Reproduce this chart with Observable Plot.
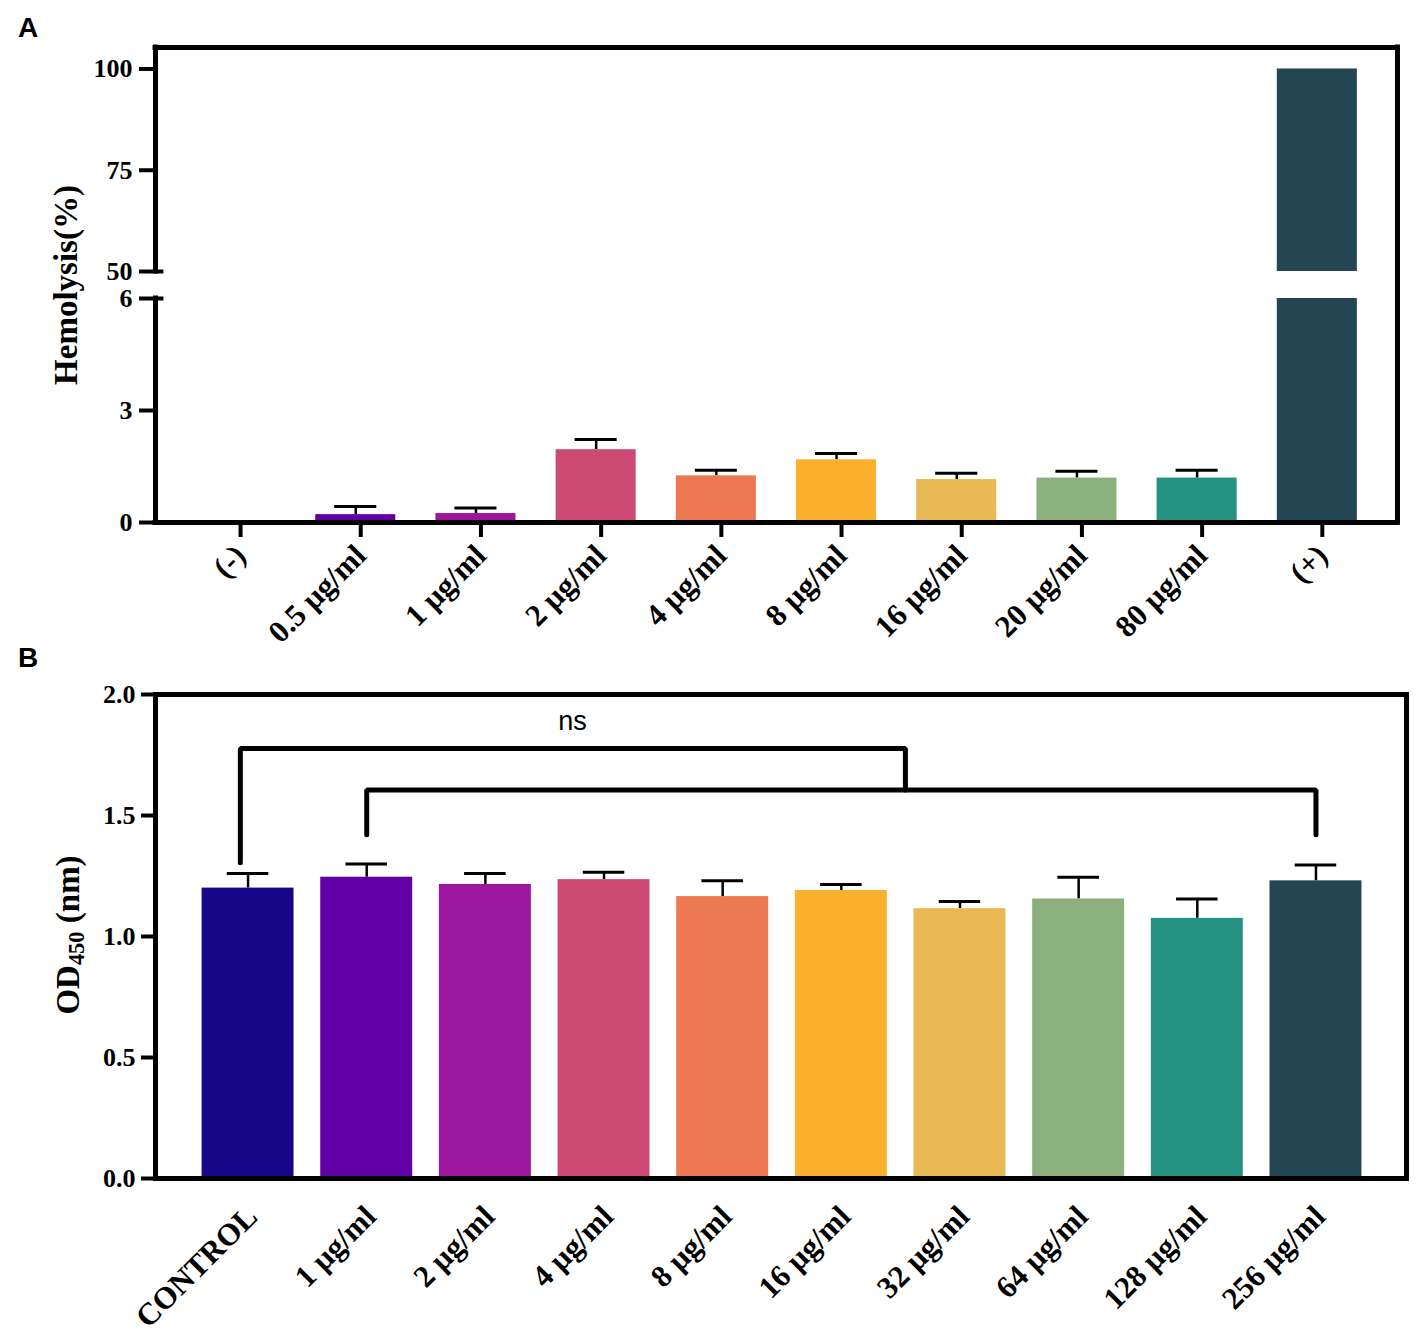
<!DOCTYPE html>
<html><head><meta charset="utf-8">
<script src="https://cdn.jsdelivr.net/npm/d3@7"></script>
<script src="https://cdn.jsdelivr.net/npm/@observablehq/plot@0.6"></script>
<style>
body{margin:0;background:#fff;}
#wrap{position:relative;width:1425px;height:1336px;overflow:hidden;background:#fff;}
.abs{position:absolute;left:0;}
.panel{position:absolute;font-family:"Liberation Sans",Arial,sans-serif;font-weight:bold;font-size:28px;line-height:1;}
.ytitle{position:absolute;font-family:"Liberation Serif","Times New Roman",serif;font-weight:bold;font-size:33px;white-space:nowrap;line-height:1;transform:translate(-50%,-50%) rotate(-90deg);}
.ytitle sub{font-size:0.68em;vertical-align:-0.25em;line-height:0;}
</style></head><body><div id="wrap"></div>
<script>
// ---------- Panel A data (Hemolysis %) ----------
const catsA = ["(-)", "0.5 µg/ml", "1 µg/ml", "2 µg/ml", "4 µg/ml", "8 µg/ml", "16 µg/ml", "20 µg/ml", "80 µg/ml", "(+)"];
const valsA = [0, 0.21, 0.24, 1.95, 1.25, 1.68, 1.15, 1.19, 1.19, 100];
const errTopA = [null, 0.43, 0.39, 2.22, 1.40, 1.85, 1.32, 1.37, 1.40, null];
const colorsA = ["#170788", "#6100a6", "#9c179e", "#cc4a74", "#ed7953", "#fcb12e", "#e9b956", "#8bb07e", "#259281", "#244653"];
const ticksAUpper = [50, 75, 100];
const ticksALower = [0, 3, 6];
const breakLow = 6, breakHigh = 50;

// ---------- Panel B data (OD450) ----------
const catsB = ["CONTROL", "1 µg/ml", "2 µg/ml", "4 µg/ml", "8 µg/ml", "16 µg/ml", "32 µg/ml", "64 µg/ml", "128 µg/ml", "256 µg/ml"];
const valsB = [1.20, 1.245, 1.215, 1.235, 1.165, 1.19, 1.115, 1.155, 1.075, 1.23];
const errTopB = [1.26, 1.30, 1.26, 1.265, 1.23, 1.215, 1.145, 1.245, 1.155, 1.295];
const colorsB = ["#170788", "#6100a6", "#9c179e", "#cc4a74", "#ed7953", "#fcb12e", "#e9b956", "#8bb07e", "#259281", "#244653"];
const ticksB = [0, 0.5, 1.0, 1.5, 2.0];
// significance brackets: points as [category index, y value]
const bracketA = [[-0.065, 1.305], [-0.065, 1.777], [5.54, 1.777], [5.54, 1.605]];
const bracketB = [[1, 1.42], [1, 1.605], [9, 1.605], [9, 1.42]];
const sigLabel = {text: "ns", x: 2.734, y: 1.888};

// ---------- build ----------
const wrap = document.getElementById("wrap");
function place(el, top) { const d = document.createElement("div"); d.className = "abs"; d.style.top = top + "px"; d.appendChild(el); wrap.appendChild(d); }
const baseStyle = {fontFamily: "'Liberation Serif','Times New Roman',serif", fontSize: "26px", fontWeight: "bold", color: "black", background: "transparent", overflow: "visible"};
const yFont = 26, xFont = 31;

const dataA = catsA.map((c, i) => ({i, cat: c, v: valsA[i], e: errTopA[i], color: colorsA[i]}));
const dataB = catsB.map((c, i) => ({i, cat: c, v: valsB[i], e: errTopB[i], color: colorsB[i]}));

const xDomA = [-0.666, 9.667];
const barHalfA = 0.333, capHalfA = 0.175;

// upper part of panel A
const upH = 255, upT = 17, upB = 14;
const upMax = 105.3;
const upPx = (upH - upT - upB) / (upMax - breakHigh);
const upper = Plot.plot({
  width: 1425, height: upH, marginLeft: 155, marginRight: 28, marginTop: upT, marginBottom: upB,
  style: baseStyle,
  x: {domain: xDomA, axis: null},
  y: {domain: [breakHigh, upMax], axis: null},
  color: {type: "identity"},
  marks: [
    Plot.rectY(dataA.filter(d => d.v > breakHigh), {x1: d => d.i - barHalfA, x2: d => d.i + barHalfA, y1: breakHigh, y2: "v", fill: "color"}),
    Plot.axisY({ticks: ticksAUpper, tickFormat: d => String(d), label: null, tickSize: 16, strokeWidth: 4, tickPadding: 7, fontSize: yFont, fontWeight: "bold"}),
    Plot.ruleY([breakHigh], {x1: xDomA[0], x2: xDomA[0] + 0.07, strokeWidth: 4}),
    Plot.ruleX([xDomA[0]], {y1: breakHigh, y2: upMax, strokeWidth: 5, strokeLinecap: "square"}),
    Plot.ruleY([upMax], {x1: xDomA[0], x2: xDomA[1], strokeWidth: 5, strokeLinecap: "square"}),
    Plot.ruleX([xDomA[1]], {y1: breakHigh - upB / upPx, y2: upMax, strokeWidth: 5, strokeLinecap: "square"})
  ]
});
place(upper, 30);

// lower part of panel A
const loH = 365, loT = 13, loB = 128;
const loPx = (loH - loT - loB) / breakLow;
const lower = Plot.plot({
  width: 1425, height: loH, marginLeft: 155, marginRight: 28, marginTop: loT, marginBottom: loB,
  style: baseStyle,
  x: {domain: xDomA, axis: null},
  y: {domain: [0, breakLow], axis: null},
  color: {type: "identity"},
  marks: [
    Plot.ruleX(dataA.filter(d => d.e != null), {x: "i", y1: "v", y2: "e", strokeWidth: 2.5}),
    Plot.ruleY(dataA.filter(d => d.e != null), {y: "e", x1: d => d.i - capHalfA, x2: d => d.i + capHalfA, strokeWidth: 3}),
    Plot.rectY(dataA.filter(d => d.v > 0), {x1: d => d.i - barHalfA, x2: d => d.i + barHalfA, y1: 0, y2: d => Math.min(d.v, breakLow), fill: "color"}),
    Plot.axisY({ticks: ticksALower, tickFormat: d => String(d), label: null, tickSize: 16, strokeWidth: 4, tickPadding: 7, fontSize: yFont, fontWeight: "bold"}),
    Plot.ruleY([breakLow], {x1: xDomA[0], x2: xDomA[0] + 0.07, strokeWidth: 4}),
    Plot.axisX({ticks: d3.range(catsA.length), tickFormat: i => catsA[i], label: null, tickSize: 15, strokeWidth: 4, tickPadding: 13, tickRotate: -45, dx: 5, fontSize: xFont, fontWeight: "bold"}),
    Plot.ruleX([xDomA[0]], {y1: 0, y2: breakLow, strokeWidth: 5, strokeLinecap: "square"}),
    Plot.ruleY([0], {x1: xDomA[0], x2: xDomA[1], strokeWidth: 5, strokeLinecap: "square"}),
    Plot.ruleX([xDomA[1]], {y1: 0, y2: breakLow + loT / loPx, strokeWidth: 5, strokeLinecap: "square"})
  ]
});
place(lower, 285);

// panel B
const xDomB = [-0.780, 9.763];
const barHalfB = 0.3875, capHalfB = 0.175;
const bracketRows = [
  ...bracketA.map(([x, y]) => ({id: "a", x, y})),
  ...bracketB.map(([x, y]) => ({id: "b", x, y}))
];
const panelB = Plot.plot({
  width: 1425, height: 681, marginLeft: 155, marginRight: 19, marginTop: 39, marginBottom: 158,
  style: baseStyle,
  x: {domain: xDomB, axis: null},
  y: {domain: [0, 2], axis: null},
  color: {type: "identity"},
  marks: [
    Plot.ruleX(dataB, {x: "i", y1: "v", y2: "e", strokeWidth: 2.5}),
    Plot.ruleY(dataB, {y: "e", x1: d => d.i - capHalfB, x2: d => d.i + capHalfB, strokeWidth: 3}),
    Plot.rectY(dataB, {x1: d => d.i - barHalfB, x2: d => d.i + barHalfB, y1: 0, y2: "v", fill: "color"}),
    Plot.line(bracketRows, {x: "x", y: "y", z: "id", stroke: "black", strokeWidth: 5, strokeLinejoin: "miter"}),
    Plot.text([sigLabel], {x: "x", y: "y", text: "text", fontFamily: "'Liberation Sans',Arial,sans-serif", fontWeight: "normal", fontSize: 27}),
    Plot.axisY({ticks: ticksB, tickFormat: d3.format(".1f"), label: null, tickSize: 14, strokeWidth: 4, tickPadding: 6, fontSize: yFont, fontWeight: "bold"}),
    Plot.axisX({ticks: d3.range(catsB.length), tickFormat: i => catsB[i], label: null, tickSize: 0, tickPadding: 33, tickRotate: -45, dx: 4, fontSize: xFont, fontWeight: "bold"}),
    Plot.frame({stroke: "black", strokeWidth: 5})
  ]
});
place(panelB, 655);

// labels
function addDiv(cls, html, left, top) { const d = document.createElement("div"); d.className = cls; d.innerHTML = html; d.style.left = left + "px"; d.style.top = top + "px"; wrap.appendChild(d); return d; }
addDiv("panel", "A", 18, 14);
addDiv("panel", "B", 18, 644);
addDiv("ytitle", "Hemolysis(%)", 66, 285);
addDiv("ytitle", "OD<sub>450</sub> (nm)", 68, 935);
</script></body></html>
